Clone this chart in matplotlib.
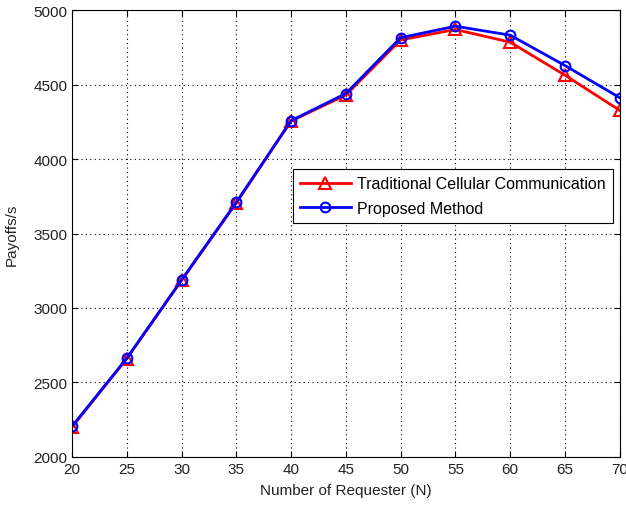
import matplotlib
matplotlib.use("Agg")
import matplotlib.pyplot as plt

plt.rcParams['font.family'] = ['Liberation Sans', 'DejaVu Sans']

requesters = [20, 25, 30, 35, 40, 45, 50, 55, 60, 65, 70]
traditional = [2200, 2660, 3185, 3705, 4255, 4430, 4800, 4870, 4785, 4563, 4327]
proposed = [2205, 2662, 3188, 3710, 4258, 4440, 4815, 4892, 4832, 4628, 4412]

fig = plt.figure(figsize=(6.26, 5.06), dpi=100)
ax = fig.add_axes([0.115, 0.095, 0.875, 0.883])

ax.plot(requesters, traditional, color='red', lw=2, marker='^', ms=8,
        mfc='none', mew=1.5, label='Traditional Cellular Communication')
ax.plot(requesters, proposed, color='blue', lw=2, marker='o', ms=7,
        mfc='none', mew=1.5, label='Proposed Method')

ax.set_xlim(20, 70)
ax.set_ylim(2000, 5000)
ax.set_xticks(range(20, 71, 5))
ax.set_yticks(range(2000, 5001, 500))
ax.grid(True, color='black', linestyle=(0, (1, 3)), linewidth=0.8)
ax.tick_params(direction='in', top=True, right=True, labelsize=11, length=4,
               labelcolor='#222222')
for s in ax.spines.values():
    s.set_linewidth(0.8)

ax.set_xlabel('Number of Requester (N)', fontsize=11, labelpad=5, color='#222222')
ax.set_ylabel('Payoffs/s', fontsize=11, labelpad=10, color='#222222')

leg = ax.legend(loc='upper left', bbox_to_anchor=(0.403, 0.644), fontsize=11.5,
                fancybox=False, edgecolor='black', framealpha=1,
                borderaxespad=0, handlelength=3.2, handletextpad=0.4,
                borderpad=0.45, labelspacing=0.6)
leg.get_frame().set_linewidth(0.8)

fig.savefig('out.png', dpi=100)
